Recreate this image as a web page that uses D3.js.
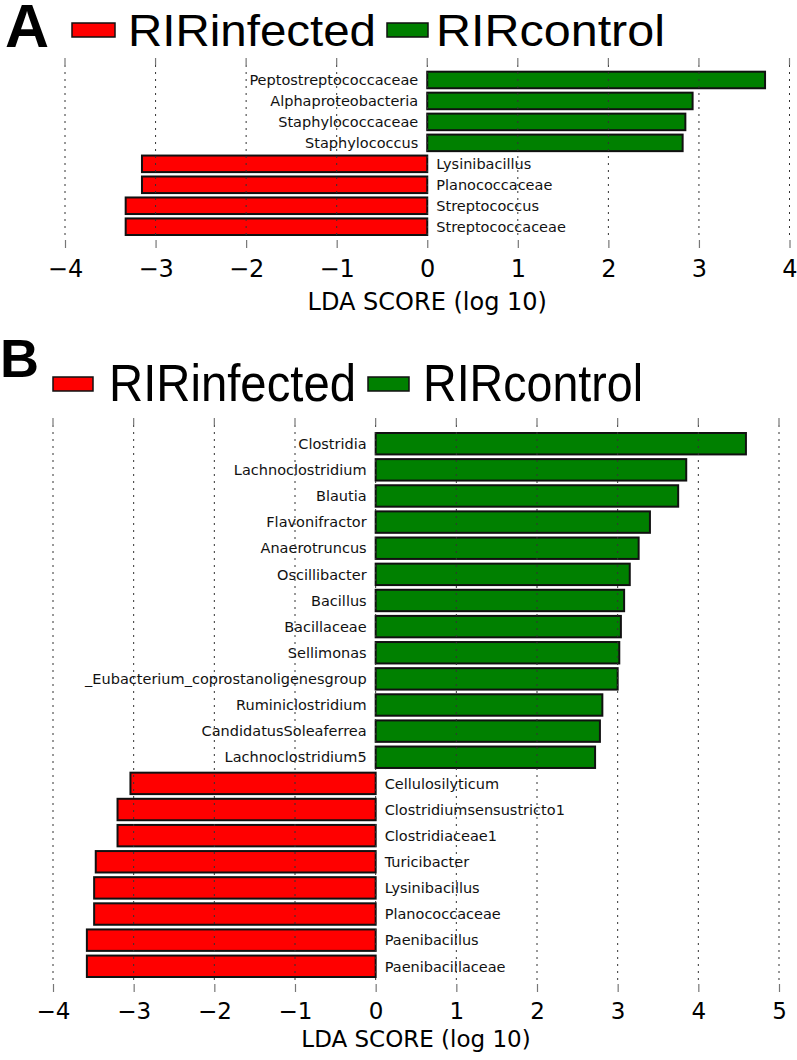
<!DOCTYPE html>
<html>
<head>
<meta charset="utf-8">
<script src="https://cdn.jsdelivr.net/npm/d3@7"></script>
<style>
  html, body { margin: 0; padding: 0; background: #fff; }
  svg { display: block; }
</style>
</head>
<body>
<svg id="chart" width="797" height="1060"></svg>
<script>
// ---------------- data ----------------
const groups = ["RIRinfected", "RIRcontrol"];
const groupColors = ["#ff0000", "#008000"];

const taxaA = ["Peptostreptococcaceae", "Alphaproteobacteria", "Staphylococcaceae", "Staphylococcus",
               "Lysinibacillus", "Planococcaceae", "Streptococcus", "Streptococcaceae"];
const ldaA = [3.73, 2.93, 2.85, 2.82, -3.15, -3.15, -3.33, -3.33];
const ticksA = [-4, -3, -2, -1, 0, 1, 2, 3, 4];
const tickLabelsA = ["\u22124", "\u22123", "\u22122", "\u22121", "0", "1", "2", "3", "4"];

const taxaB = ["Clostridia", "Lachnoclostridium", "Blautia", "Flavonifractor", "Anaerotruncus",
               "Oscillibacter", "Bacillus", "Bacillaceae", "Sellimonas", "_Eubacterium_coprostanoligenesgroup",
               "Ruminiclostridium", "CandidatusSoleaferrea", "Lachnoclostridium5",
               "Cellulosilyticum", "Clostridiumsensustricto1", "Clostridiaceae1", "Turicibacter",
               "Lysinibacillus", "Planococcaceae", "Paenibacillus", "Paenibacillaceae"];
const ldaB = [4.59, 3.85, 3.75, 3.40, 3.26, 3.15, 3.08, 3.04, 3.02, 3.00, 2.81, 2.78, 2.72,
              -3.04, -3.20, -3.20, -3.47, -3.49, -3.49, -3.58, -3.58];
const ticksB = [-4, -3, -2, -1, 0, 1, 2, 3, 4, 5];
const tickLabelsB = ["\u22124", "\u22123", "\u22122", "\u22121", "0", "1", "2", "3", "4", "5"];

const axisTitle = "LDA SCORE (log 10)";

// ---------------- drawing ----------------
const svg = d3.select("#chart");
svg.append("rect").attr("width", 797).attr("height", 1060).attr("fill", "#fff");

function drawPanel(cfg) {
  const g = svg.append("g");
  const x = d3.scaleLinear().domain(d3.extent(cfg.ticks)).range(cfg.xRange);
  const y = d3.scaleBand().domain(cfg.taxa).range(cfg.barRange)
              .paddingInner(cfg.padInner).paddingOuter(0);
  const bw = y.bandwidth();

  // panel letter
  g.append("text").attr("x", cfg.letterX).attr("y", cfg.letterY)
    .attr("font-family", "Liberation Sans, Arial, sans-serif")
    .attr("font-weight", "bold").attr("font-size", cfg.letterSize)
    .attr("fill", "#000").text(cfg.letter);

  // legend
  cfg.legend.forEach((L, i) => {
    g.append("rect").attr("x", L.px).attr("y", L.py).attr("width", L.pw).attr("height", L.ph)
      .attr("fill", groupColors[i]).attr("stroke", "#111").attr("stroke-width", 1.5);
    g.append("text").attr("x", L.tx).attr("y", L.ty)
      .attr("font-family", "Liberation Sans, Arial, sans-serif")
      .attr("font-size", L.fs)
      .attr("textLength", L.tl).attr("lengthAdjust", "spacingAndGlyphs")
      .attr("fill", "#000").text(groups[i]);
  });

  const data = cfg.taxa.map((t, i) => ({ t, v: cfg.values[i] }));

  // bars
  g.append("g").selectAll("rect").data(data).join("rect")
    .attr("x", d => x(Math.min(0, d.v)))
    .attr("y", d => y(d.t))
    .attr("width", d => Math.abs(x(d.v) - x(0)))
    .attr("height", bw)
    .attr("fill", d => d.v < 0 ? groupColors[0] : groupColors[1])
    .attr("stroke", "#111").attr("stroke-width", 2);

  // grid (dotted, drawn above bars)
  g.append("g").selectAll("line").data(cfg.ticks).join("line")
    .attr("x1", d => x(d)).attr("x2", d => x(d))
    .attr("y1", cfg.axTop + 7).attr("y2", cfg.axBottom - 8)
    .attr("stroke", "#333").attr("stroke-width", 1)
    .attr("stroke-dasharray", "2,5");

  // top ticks (inward)
  g.append("g").selectAll("line").data(cfg.ticks).join("line")
    .attr("x1", d => x(d)).attr("x2", d => x(d))
    .attr("y1", cfg.axTop).attr("y2", cfg.axTop + 7)
    .attr("stroke", "#777").attr("stroke-width", 1.2);

  // bottom axis
  const axis = d3.axisBottom(x).tickValues(cfg.ticks)
    .tickFormat((d, i) => cfg.tickLabels[i])
    .tickSizeInner(-8).tickSizeOuter(0).tickPadding(12);
  const ag = g.append("g").attr("transform", `translate(0,${cfg.axBottom})`).call(axis);
  ag.select(".domain").remove();
  ag.selectAll(".tick line").attr("stroke", "#777").attr("stroke-width", 1.2);
  ag.selectAll(".tick text")
    .attr("font-family", "DejaVu Sans, sans-serif").attr("font-size", cfg.fontSize)
    .attr("fill", "#000").attr("dy", null)
    .attr("y", cfg.tickBaseline - cfg.axBottom);

  // axis title
  g.append("text")
    .attr("x", (cfg.xRange[0] + cfg.xRange[1]) / 2).attr("y", cfg.titleBaseline)
    .attr("text-anchor", "middle")
    .attr("font-family", "DejaVu Sans, sans-serif").attr("font-size", cfg.fontSize)
    .attr("fill", "#000").text(axisTitle);

  // taxon labels
  g.append("g").selectAll("text").data(data).join("text")
    .attr("x", d => d.v < 0 ? x(0) + 9 : x(0) - 9)
    .attr("y", d => y(d.t) + bw / 2)
    .attr("dy", "0.36em")
    .attr("text-anchor", d => d.v < 0 ? "start" : "end")
    .attr("font-family", "DejaVu Sans, sans-serif").attr("font-size", 14.5)
    .attr("fill", "#111").text(d => d.t);
}

drawPanel({
  letter: "A", letterX: 5, letterY: 47, letterSize: 61,
  legend: [
    { px: 72, py: 23, pw: 43, ph: 14, tx: 128, ty: 46, fs: 44, tl: 248 },
    { px: 387, py: 23, pw: 41, ph: 14, tx: 436, ty: 46, fs: 44, tl: 229 }
  ],
  taxa: taxaA, values: ldaA, ticks: ticksA, tickLabels: tickLabelsA,
  xRange: [65, 789.5], barRange: [71.7, 235], padInner: 0.21,
  axTop: 58, axBottom: 248, tickBaseline: 277, titleBaseline: 310, fontSize: 24
});

drawPanel({
  letter: "B", letterX: 0, letterY: 377, letterSize: 54,
  legend: [
    { px: 53, py: 377, pw: 40, ph: 14, tx: 109, ty: 401, fs: 52, tl: 247 },
    { px: 368, py: 377, pw: 41, ph: 14, tx: 423, ty: 401, fs: 52, tl: 220 }
  ],
  taxa: taxaB, values: ldaB, ticks: ticksB, tickLabels: tickLabelsB,
  xRange: [53, 779], barRange: [433, 977], padInner: 0.18,
  axTop: 418, axBottom: 992, tickBaseline: 1019, titleBaseline: 1047, fontSize: 23
});
</script>
</body>
</html>
